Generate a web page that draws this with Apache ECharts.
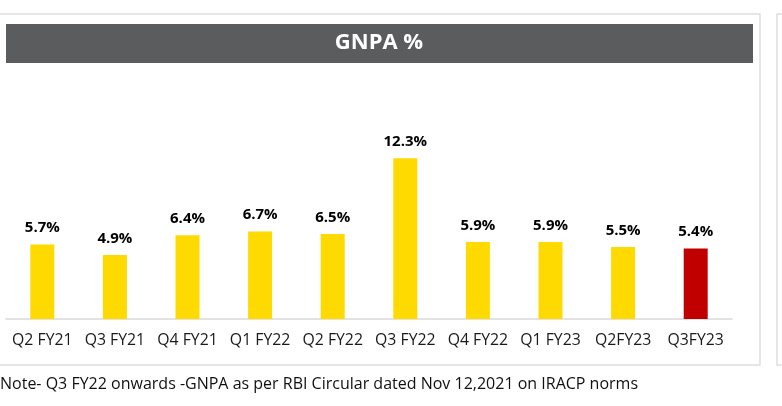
<!DOCTYPE html>
<html>
<head>
<meta charset="utf-8">
<script src="https://cdn.jsdelivr.net/npm/echarts@6/dist/echarts.min.js"></script>
<style>
html,body{margin:0;padding:0;background:#fff;}
#c{width:782px;height:406px;}
</style>
</head>
<body>
<div id="c"></div>
<script>
const categories = ['Q2 FY21','Q3 FY21','Q4 FY21','Q1 FY22','Q2 FY22','Q3 FY22','Q4 FY22','Q1 FY23','Q2FY23','Q3FY23'];
const gnpaValues = [5.7, 4.9, 6.4, 6.7, 6.5, 12.3, 5.9, 5.9, 5.5, 5.4];
const titleText = 'GNPA %';
const noteText = 'Note- Q3 FY22 onwards -GNPA as per RBI Circular dated Nov 12,2021 on IRACP norms';

const yellow = '#FFDA00';
const red = '#C00000';
const font = '"Open Sans", "Noto Sans", sans-serif';

const chart = echarts.init(document.getElementById('c'), null, {renderer:'canvas'});
chart.setOption({
  animation: false,
  backgroundColor: '#fff',
  grid: {left: 6, right: 50, top: 136, bottom: 87, containLabel: false},
  xAxis: {
    type: 'category',
    data: categories,
    axisLine: {lineStyle: {color: '#d9d9d9', width: 1.5}},
    axisTick: {show: false},
    axisLabel: {color: '#1a1a1a', fontFamily: font, fontSize: 15.8, margin: 13, interval: 0}
  },
  yAxis: {
    type: 'value', min: 0, max: 14, show: false,
    splitLine: {show: false}
  },
  series: [{
    type: 'bar',
    barWidth: 24,
    data: gnpaValues.map((v, i) => ({
      value: v,
      itemStyle: {color: i === gnpaValues.length - 1 ? red : yellow}
    })),
    label: {
      show: true, position: 'top', distance: 9,
      formatter: p => p.value.toFixed(1) + '%',
      color: '#000', fontWeight: 'bold', fontSize: 15, fontFamily: font
    }
  }],
  graphic: [
    {type: 'rect', z: -1, shape: {x: -2, y: 14, width: 762, height: 351},
     style: {fill: 'none', stroke: '#dedede', lineWidth: 1.5}},
    {type: 'rect', z: -1, shape: {x: 777, y: 14, width: 30, height: 351},
     style: {fill: 'none', stroke: '#dedede', lineWidth: 1.5}},
    {type: 'rect', shape: {x: 6, y: 24, width: 747, height: 39},
     style: {fill: '#5B5C5E'}},
    {type: 'text', x: 379, y: 43,
     style: {text: titleText, fill: '#fff', font: 'bold 22px ' + font, textAlign: 'center', textVerticalAlign: 'middle'}},
    {type: 'text', x: 0, y: 384,
     style: {text: noteText, fill: '#111', font: '16px ' + font, textAlign: 'left', textVerticalAlign: 'middle'}}
  ]
});
</script>
</body>
</html>
